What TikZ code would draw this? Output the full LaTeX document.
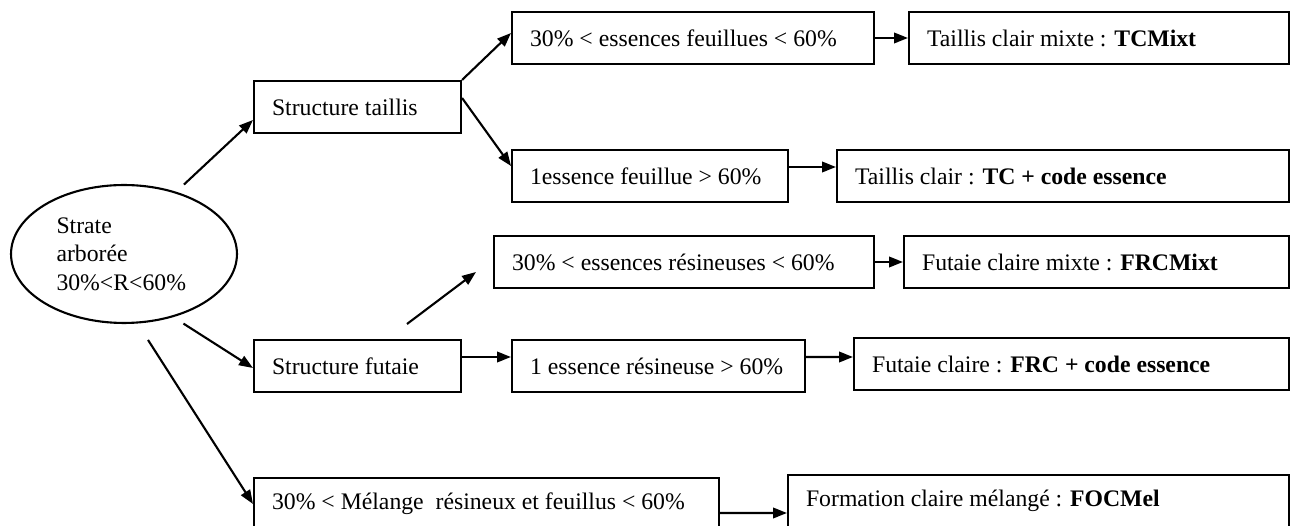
\documentclass[tikz,border=0pt]{standalone}
\usepackage{fontspec}
\setmainfont{Liberation Serif}
\usepackage{xcolor}
\usepackage{tikz}
\usetikzlibrary{shapes.geometric, arrows.meta}

\tikzset{
    boite/.style={draw, rectangle, line width=1.2pt, anchor=west, minimum height=10.4mm, inner xsep=3.6mm, inner ysep=0pt, align=flush left, text width=#1},
    fleche/.style={-{Triangle[length=2.8mm, width=2.1mm]}, line width=1.2pt}
}

\begin{document}
\begin{tikzpicture}[x=0.02cm, y=-0.02cm, every node/.style={font=\fontsize{13.5pt}{16.2pt}\selectfont}]
    \useasboundingbox (0,0) rectangle (1301,526);

    \node[draw, ellipse, line width=1.2pt, minimum width=45.2mm, minimum height=27.6mm, inner sep=0pt, align=flush left, text width=27mm] (strate) at (124,254) {Strate\\arborée\\30\%<R<60\%};

    \node[boite=34.2mm] (taillis) at (253,107) {Structure taillis};
    \node[boite=34.2mm] (futaie) at (253,366) {Structure futaie};

    \node[boite=65.2mm] (feuMix) at (511,38) {30\% < essences feuillues < 60\%};
    \node[boite=68.8mm] (tcMixt) at (908,38) {Taillis clair mixte : \textbf{TCMixt}};
    \node[boite=48mm] (feuUne) at (511,176) {1essence feuillue > 60\%};
    \node[boite=83.2mm] (tc) at (836,176) {Taillis clair : \textbf{TC + code essence}};
    \node[boite=68.8mm] (resMix) at (493,262) {30\% < essences résineuses < 60\%};
    \node[boite=69.8mm] (frcMixt) at (903,262) {Futaie claire mixte : \textbf{FRCMixt}};
    \node[boite=51.4mm] (resUne) at (511,366) {1 essence résineuse > 60\%};
    \node[boite=79.8mm] (frc) at (853,364) {Futaie claire : \textbf{FRC + code essence}};
    \node[boite=85.8mm] (melange) at (253,504) {30\% < Mélange~ résineux et feuillus < 60\%};
    \node[boite=93mm] (focMel) at (787,501) {Formation claire mélangé : \textbf{FOCMel}};

    \coordinate (depart) at (407,324);

    \draw[fleche, shorten <=2.1mm] (strate.50) -- ([yshift=-2.6mm]taillis.west);
    \draw[fleche, shorten <=2.4mm] (strate.-52) -- ([yshift=-0.4mm]futaie.west);
    \draw[fleche, shorten <=3.9mm] (strate.-79) -- (melange.west);

    \draw[fleche] (taillis.north east) -- ([yshift=1mm]feuMix.west);
    \draw[fleche] ([yshift=1.8mm]taillis.east) -- ([yshift=2mm]feuUne.west);
    \draw[fleche] (depart) -- ([shift={(-3.4mm,-2mm)}]resMix.west);
    \draw[fleche] ([yshift=1.8mm]futaie.east) -- ([yshift=1.8mm]resUne.west);

    \draw[fleche] (feuMix.east) -- (tcMixt.west);
    \draw[fleche] ([yshift=1.8mm]feuUne.east) -- ([yshift=1.8mm]tc.west);
    \draw[fleche] (resMix.east) -- (frcMixt.west);
    \draw[fleche] ([yshift=1.8mm]resUne.east) -- ([yshift=1.4mm]frc.west);
    \draw[fleche] ([yshift=-1.8mm]melange.east) -- ([yshift=-2.4mm]focMel.west);
\end{tikzpicture}
\end{document}
